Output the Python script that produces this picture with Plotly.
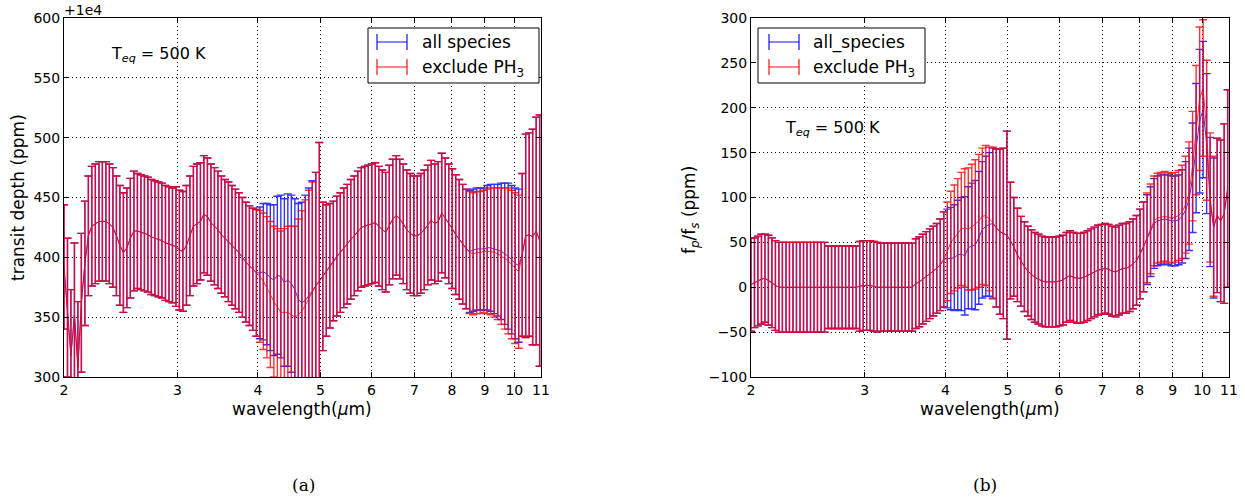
import math
import plotly.graph_objects as go

# ---------------- data ----------------
wavelength_um = [
    2.000, 2.025, 2.050, 2.076, 2.102, 2.128, 2.155, 2.182, 2.209, 2.237,
    2.266, 2.294, 2.323, 2.352, 2.382, 2.412, 2.442, 2.473, 2.504, 2.535,
    2.568, 2.600, 2.633, 2.666, 2.699, 2.733, 2.768, 2.803, 2.838, 2.874,
    2.910, 2.947, 2.984, 3.021, 3.059, 3.098, 3.137, 3.176, 3.216, 3.257,
    3.297, 3.339, 3.381, 3.424, 3.467, 3.510, 3.554, 3.599, 3.645, 3.690,
    3.737, 3.784, 3.831, 3.880, 3.928, 3.978, 4.028, 4.078, 4.130, 4.181,
    4.234, 4.287, 4.341, 4.396, 4.451, 4.507, 4.564, 4.621, 4.679, 4.738,
    4.798, 4.858, 4.919, 4.981, 5.044, 5.107, 5.172, 5.237, 5.303, 5.369,
    5.437, 5.505, 5.574, 5.645, 5.716, 5.787, 5.860, 5.934, 6.009, 6.084,
    6.161, 6.238, 6.316, 6.396, 6.476, 6.558, 6.640, 6.724, 6.808, 6.894,
    6.981, 7.069, 7.158, 7.248, 7.339, 7.431, 7.525, 7.620, 7.715, 7.812,
    7.910, 8.010, 8.110, 8.212, 8.315, 8.420, 8.526, 8.633, 8.742, 8.852,
    8.963, 9.076, 9.190, 9.306, 9.423, 9.541, 9.661, 9.783, 9.906, 10.030,
    10.157, 10.284, 10.414, 10.545, 10.677, 10.812, 10.948,
]

# (a) transit depth minus 1e4 ppm
depth_all_species = [
    392, 358, 318, 352, 308, 362, 395, 418, 426, 428,
    430, 430, 430, 428, 425, 418, 410, 404, 408, 416,
    422, 422, 421, 420, 419, 417, 416, 415, 414, 412,
    411, 410, 409, 406, 405, 410, 418, 426, 428, 430,
    436, 434, 429, 426, 423, 419, 416, 413, 410, 407,
    404, 400, 396, 393, 390, 387, 387, 388, 386, 383,
    381, 385, 384, 379, 381, 378, 373, 365, 362, 364,
    368, 372, 376, 380, 384, 389, 393, 397, 401, 404,
    408, 411, 415, 418, 422, 425, 426, 427, 428, 429,
    426, 423, 421, 427, 432, 435, 432, 428, 423, 420,
    418, 418, 420, 423, 427, 431, 428, 430, 437, 433,
    428, 424, 419, 415, 411, 407, 405, 406, 407, 407,
    407, 408, 408, 407, 406, 405, 403, 401, 398, 395,
    393, 402, 418, 419, 417, 422, 414,
]
depth_exclude_ph3 = [
    392, 358, 318, 352, 308, 362, 395, 418, 426, 428,
    430, 430, 430, 428, 425, 418, 410, 404, 408, 416,
    422, 422, 421, 420, 419, 417, 416, 415, 414, 412,
    411, 410, 409, 406, 405, 410, 418, 426, 428, 430,
    436, 434, 429, 426, 423, 419, 416, 413, 410, 407,
    404, 400, 396, 393, 390, 387, 384, 380, 375, 369,
    363, 358, 354, 354, 354, 352, 350, 352, 355, 360,
    366, 371, 376, 380, 384, 389, 393, 397, 401, 404,
    408, 411, 415, 418, 422, 425, 426, 427, 428, 429,
    426, 423, 421, 427, 432, 435, 432, 428, 423, 420,
    418, 418, 420, 423, 427, 431, 428, 430, 437, 433,
    428, 424, 419, 415, 411, 407, 404, 403, 404, 404,
    405, 405, 405, 404, 403, 401, 399, 397, 394, 391,
    388, 402, 418, 419, 417, 422, 414,
]
depth_err = [
    52, 58, 55, 60, 55, 58, 52, 50, 50, 50,
    50, 50, 50, 50, 50, 50, 50, 50, 50, 50,
    50, 48, 48, 48, 48, 48, 48, 48, 48, 48,
    48, 48, 50, 50, 50, 50, 50, 50, 50, 49,
    49, 49, 49, 49, 49, 49, 49, 50, 50, 50,
    50, 50, 50, 50, 51, 53, 55, 57, 59, 61,
    63, 66, 68, 70, 72, 74, 76, 80, 84, 88,
    90, 92, 95, 116, 62, 55, 52, 50, 50, 50,
    50, 50, 50, 50, 50, 50, 50, 50, 50, 50,
    50, 50, 50, 50, 50, 50, 50, 50, 50, 50,
    50, 50, 50, 50, 50, 50, 50, 50, 50, 50,
    50, 50, 50, 50, 50, 50, 51, 51, 51, 51,
    51, 52, 53, 54, 55, 57, 59, 61, 62, 63,
    64, 68, 85, 85, 90, 95, 105,
]

# (b) planet/star flux ratio, ppm
fpfs_all_species = [
    3, 5, 7, 9, 10, 8, 5, 2, 0, 0,
    0, 0, 0, 0, 0, 0, 0, 0, 0, 0,
    0, 0, 0, 0, 0, 0, 0, 0, 0, 0,
    0, 1, 2, 2, 2, 1, 0, 0, 0, 0,
    0, 0, 0, 0, 0, 0, 0, 4, 6, 9,
    12, 15, 18, 21, 25, 31, 32, 32, 33, 36,
    37, 35, 44, 46, 47, 55, 64, 68, 70, 71,
    66, 62, 60, 58, 52, 45, 36, 29, 23, 18,
    14, 11, 9, 7, 6, 6, 6, 6, 7, 8,
    11, 13, 11, 10, 10, 11, 13, 15, 17, 19,
    20, 21, 20, 18, 17, 19, 21, 21, 23, 26,
    30, 37, 45, 53, 62, 71, 74, 75, 76, 75,
    74, 74, 75, 79, 86, 98, 122, 155, 185, 198,
    160, 95, 66, 80, 74, 82, 110,
]
fpfs_exclude_ph3 = [
    3, 5, 7, 9, 10, 8, 5, 2, 0, 0,
    0, 0, 0, 0, 0, 0, 0, 0, 0, 0,
    0, 0, 0, 0, 0, 0, 0, 0, 0, 0,
    0, 1, 2, 2, 2, 1, 0, 0, 0, 0,
    0, 0, 0, 0, 0, 0, 0, 4, 6, 9,
    12, 15, 18, 21, 25, 31, 40, 50, 55, 60,
    65, 66, 65, 67, 70, 74, 79, 80, 76, 72,
    66, 62, 60, 58, 52, 45, 36, 29, 23, 18,
    14, 11, 9, 7, 6, 6, 6, 6, 7, 8,
    11, 13, 11, 10, 10, 11, 13, 15, 17, 19,
    20, 21, 20, 18, 17, 19, 21, 21, 23, 26,
    30, 37, 45, 55, 65, 74, 77, 78, 79, 78,
    77, 78, 80, 84, 92, 105, 135, 175, 210, 222,
    175, 100, 68, 80, 74, 82, 110,
]
fpfs_err = [
    52, 50, 50, 50, 49, 50, 50, 50, 50, 50,
    50, 50, 50, 50, 50, 50, 50, 50, 50, 50,
    50, 50, 46, 46, 46, 46, 46, 46, 46, 46,
    46, 50, 50, 50, 50, 50, 50, 49, 49, 49,
    49, 49, 49, 49, 49, 49, 49, 50, 50, 50,
    50, 50, 50, 50, 51, 53, 55, 57, 59, 61,
    63, 66, 68, 70, 72, 74, 76, 78, 80, 84,
    88, 92, 95, 116, 65, 55, 52, 50, 50, 50,
    50, 50, 50, 50, 50, 50, 50, 50, 50, 50,
    50, 50, 50, 50, 50, 50, 50, 50, 50, 50,
    50, 50, 50, 50, 50, 50, 50, 50, 50, 50,
    50, 50, 50, 50, 50, 50, 50, 50, 50, 50,
    50, 50, 50, 52, 54, 57, 61, 72, 80, 76,
    78, 72, 78, 86, 90, 100, 110,
]

x_ticks = [2, 3, 4, 5, 6, 7, 8, 9, 10, 11]
depth_ticks = [300, 350, 400, 450, 500, 550, 600]
fpfs_ticks = [-100, -50, 0, 50, 100, 150, 200, 250, 300]

# ---------------- figure ----------------
W, H = 1245, 502
FONT = "DejaVu Sans"
BLUE = "#0000ff"
RED = "#ff0000"
ALPHA = 0.8
PH3 = "exclude PH<sub>3</sub>"


def px(x):
    return x / W


def py(y):
    return 1 - y / H


fig = go.Figure()


def add_pair(xref, yref, yb, yr, err, name_b, legend):
    for vals, col, name in ((yb, BLUE, name_b), (yr, RED, PH3)):
        fig.add_trace(go.Scatter(
            x=wavelength_um, y=vals, mode="lines", name=name,
            xaxis=xref, yaxis=yref, showlegend=False, opacity=ALPHA,
            line=dict(color=col, width=1),
            error_y=dict(type="data", array=err, symmetric=True,
                         color=col, thickness=1.4, width=4),
        ))
        # legend entry (its errorbar glyph is drawn below as shapes)
        fig.add_trace(go.Scatter(
            x=[None], y=[None], mode="lines", name=name,
            xaxis=xref, yaxis=yref, legend=legend, showlegend=True,
            line=dict(color=col, width=0),
        ))


add_pair("x", "y", depth_all_species, depth_exclude_ph3, depth_err, "all species", "legend")
add_pair("x2", "y2", fpfs_all_species, fpfs_exclude_ph3, fpfs_err, "all_species", "legend2")

tickfont = dict(family=FONT, size=14, color="black")
xcommon = dict(
    type="log", range=[math.log10(2), math.log10(11)],
    tickvals=x_ticks, ticktext=[str(t) for t in x_ticks],
    ticks="inside", ticklen=5, tickcolor="black", mirror="ticks",
    showline=True, linecolor="black", linewidth=1,
    showgrid=True, gridcolor="black", griddash="1px,3px", gridwidth=1,
    zeroline=False, tickfont=tickfont, automargin=False,
)
ycommon = dict(
    ticks="inside", ticklen=5, tickcolor="black", mirror="ticks",
    showline=True, linecolor="black", linewidth=1,
    showgrid=True, gridcolor="black", griddash="1px,3px", gridwidth=1,
    zeroline=False, tickfont=tickfont, automargin=False,
)

legfont = dict(family=FONT, size=17, color="black")
ytop, ybot = 18, 377

# legend boxes (left, top, right, bottom in px), legend anchors, glyph x-span
leg_boxes = [(368, 28, 539, 83), (758, 28, 925, 83)]
leg_x = [372, 763]
glyph_x = [(377, 407), (769, 799)]
rows = [42, 67]

fig.update_layout(
    width=W, height=H, margin=dict(l=0, r=0, t=0, b=0),
    paper_bgcolor="white", plot_bgcolor="white",
    font=dict(family=FONT, color="black"),
    xaxis=dict(xcommon, domain=[px(64), px(541)], anchor="y"),
    yaxis=dict(ycommon, domain=[py(ybot), py(ytop)], anchor="x",
               range=[300, 600], tickvals=depth_ticks,
               ticktext=[str(t) for t in depth_ticks]),
    xaxis2=dict(xcommon, domain=[px(751), px(1229)], anchor="y2"),
    yaxis2=dict(ycommon, domain=[py(ybot), py(ytop)], anchor="x2",
                range=[-100, 300], tickvals=fpfs_ticks,
                ticktext=[str(t).replace("-", "\u2212") for t in fpfs_ticks]),
    legend=dict(x=px(leg_x[0]), y=py(24), xanchor="left", yanchor="top",
                bgcolor="rgba(0,0,0,0)", borderwidth=0, itemwidth=40,
                font=legfont),
    legend2=dict(x=px(leg_x[1]), y=py(24), xanchor="left", yanchor="top",
                 bgcolor="rgba(0,0,0,0)", borderwidth=0, itemwidth=40,
                 font=legfont),
)

# legend frames and error-bar glyphs
for (l, t, r, b), (gx0, gx1) in zip(leg_boxes, glyph_x):
    fig.add_shape(type="rect", xref="paper", yref="paper",
                  x0=px(l), x1=px(r), y0=py(b), y1=py(t),
                  fillcolor="white", line=dict(color="black", width=1),
                  layer="above")
    for ry, col in zip(rows, (BLUE, RED)):
        fig.add_shape(type="line", xref="paper", yref="paper",
                      x0=px(gx0), x1=px(gx1), y0=py(ry), y1=py(ry),
                      line=dict(color=col, width=1.2), opacity=ALPHA,
                      layer="above")
        for cx in (gx0, gx1):
            fig.add_shape(type="line", xref="paper", yref="paper",
                          x0=px(cx), x1=px(cx), y0=py(ry - 8), y1=py(ry + 8),
                          line=dict(color=col, width=1.4), opacity=ALPHA,
                          layer="above")

lab = dict(family=FONT, size=17, color="black")
notes = [
    dict(text="transit depth (ppm)", x=px(18), y=py(198), textangle=-90, font=lab),
    dict(text="wavelength(<i>μ</i>m)", x=px(302), y=py(409), font=lab),
    dict(text="wavelength(<i>μ</i>m)", x=px(990), y=py(409), font=lab),
    dict(text="f<sub><i>p</i></sub>/f<sub><i>s</i></sub> (ppm)", x=px(690),
         y=py(210), textangle=-90, font=lab),
    dict(text="+1e4", x=px(83), y=py(10),
         font=dict(family=FONT, size=14, color="black")),
    dict(text="T<sub><i>eq</i></sub> = 500 K", x=px(158), y=py(54),
         font=dict(family=FONT, size=16, color="black")),
    dict(text="T<sub><i>eq</i></sub> = 500 K", x=px(832), y=py(128),
         font=dict(family=FONT, size=16, color="black")),
    dict(text="(a)", x=px(303), y=py(485),
         font=dict(family="DejaVu Serif", size=17, color="black")),
    dict(text="(b)", x=px(985), y=py(485),
         font=dict(family="DejaVu Serif", size=17, color="black")),
]
for n in notes:
    fig.add_annotation(dict(xref="paper", yref="paper", showarrow=False,
                            xanchor="center", yanchor="middle", **n))

fig.write_html("out.html", config={"displayModeBar": False},
               post_script="document.body.style.margin='0';")
